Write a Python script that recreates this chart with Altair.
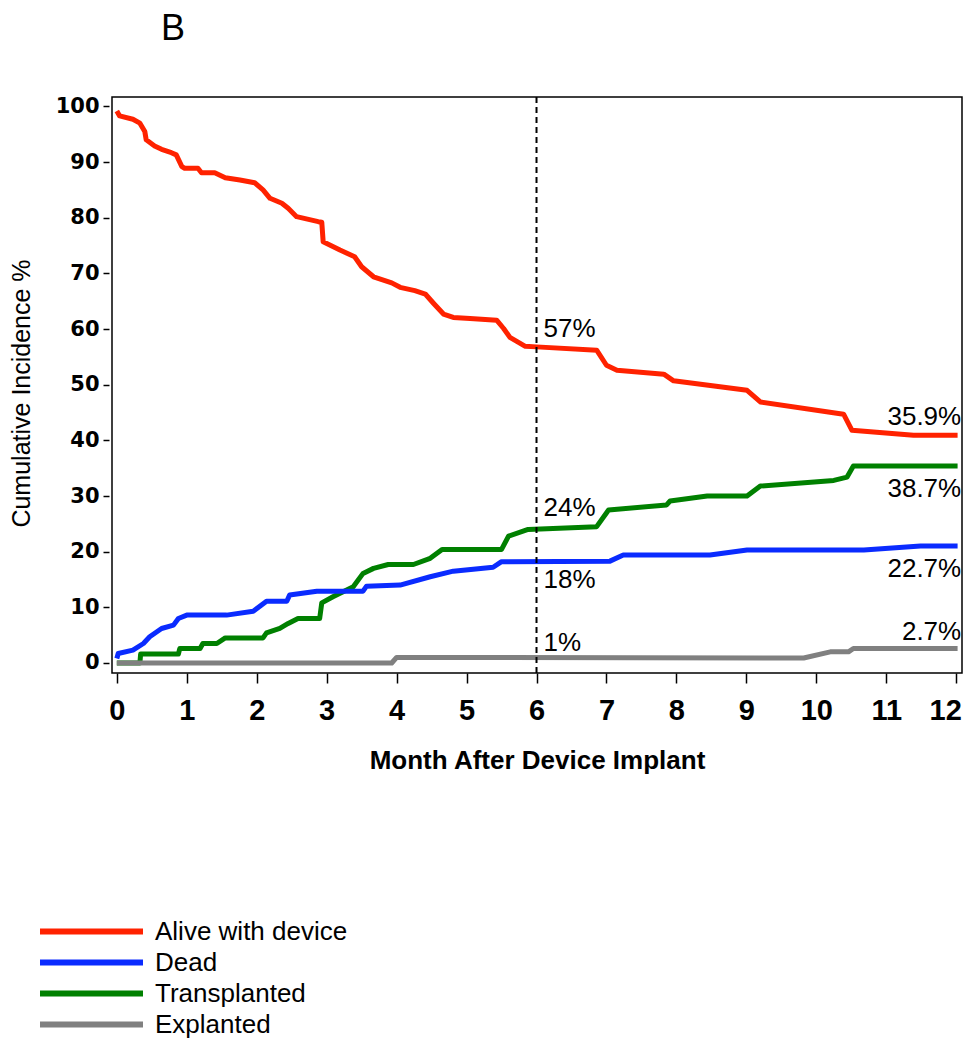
import altair as alt
import pandas as pd

# ---------------- data ----------------
series_names = ["Alive with device", "Dead", "Transplanted", "Explanted"]
series_colors = ["#FF2200", "#0A2BFF", "#008000", "#808080"]

alive_month = [0, 0.04, 0.23, 0.33, 0.40, 0.42, 0.54, 0.64, 0.78, 0.85,
               0.93, 0.97, 1.16, 1.21, 1.40, 1.55, 1.76, 1.97, 2.09, 2.19,
               2.36, 2.45, 2.57, 2.88, 2.93, 2.95, 3.19, 3.40, 3.50, 3.67,
               3.93, 4.05, 4.26, 4.41, 4.53, 4.67, 4.81, 5.05, 5.43, 5.53,
               5.62, 5.84, 6.0, 6.86, 7.0, 7.15, 7.82, 7.96, 9.01, 9.2,
               10.39, 10.51, 11.39, 12.02]
alive_pct = [99.2, 98.3, 97.7, 97.0, 95.5, 94.0, 92.9, 92.3, 91.7, 91.3,
             89.2, 88.9, 88.9, 88.1, 88.1, 87.2, 86.8, 86.3, 85.0, 83.5,
             82.6, 81.7, 80.2, 79.3, 79.2, 75.7, 74.2, 73.0, 71.2, 69.4,
             68.3, 67.5, 66.9, 66.3, 64.6, 62.7, 62.1, 61.9, 61.6, 60.1,
             58.5, 56.9, 56.8, 56.2, 53.5, 52.6, 51.9, 50.7, 49.0, 46.9,
             44.7, 41.8, 40.9, 40.9]

dead_month = [0, 0.02, 0.23, 0.38, 0.47, 0.64, 0.81, 0.88, 1.0, 1.57,
              1.95, 2.14, 2.43, 2.47, 2.86, 3.52, 3.57, 4.05, 4.48, 4.81,
              5.38, 5.50, 7.05, 7.24, 8.48, 9.01, 10.68, 11.49, 12.02]
dead_pct = [0.8, 1.7, 2.3, 3.5, 4.7, 6.2, 6.8, 8.0, 8.6, 8.6,
            9.3, 11.1, 11.1, 12.2, 12.9, 12.9, 13.8, 14.0, 15.5, 16.5,
            17.2, 18.2, 18.3, 19.4, 19.4, 20.3, 20.3, 21.0, 21.0]

transplant_month = [0, 0.33, 0.34, 0.88, 0.90, 1.19, 1.23, 1.43, 1.55, 2.09,
                    2.14, 2.33, 2.45, 2.59, 2.90, 2.93, 3.09, 3.38, 3.52, 3.67,
                    3.88, 4.24, 4.48, 4.65, 5.50, 5.60, 5.88, 6.86, 7.03, 7.86,
                    7.91, 8.44, 9.01, 9.2, 10.25, 10.44, 10.53, 12.02]
transplant_pct = [0, 0, 1.6, 1.6, 2.6, 2.6, 3.5, 3.5, 4.5, 4.5,
                  5.4, 6.2, 7.1, 8.0, 8.0, 10.8, 11.9, 13.7, 16.1, 17.0,
                  17.7, 17.7, 18.8, 20.4, 20.4, 22.8, 24.0, 24.5, 27.5, 28.4,
                  29.1, 30.0, 30.0, 31.8, 32.8, 33.4, 35.4, 35.4]

explant_month = [0, 3.93, 4.0, 9.82, 10.2, 10.46, 10.53, 12.02]
explant_pct = [0, 0, 1.0, 0.9, 2.0, 2.0, 2.6, 2.6]

# annotations
left_labels = ["57%", "24%", "18%", "1%"]
left_label_month = [6, 6, 6, 6]
left_label_pct = [58.6, 26.4, 13.4, 2.2]
right_labels = ["35.9%", "38.7%", "22.7%", "2.7%"]
right_label_month = [12, 12, 12, 12]
right_label_pct = [42.7, 29.8, 15.4, 4.2]

panel_label = ["B"]
landmark_month = [6]
x_ticks = list(range(0, 13))
y_ticks = list(range(0, 101, 10))

# ---------------- build tables ----------------
rows = []
for name, months, pcts in [
    ("Transplanted", transplant_month, transplant_pct),
    ("Explanted", explant_month, explant_pct),
    ("Dead", dead_month, dead_pct),
    ("Alive with device", alive_month, alive_pct),
]:
    for i, (m, p) in enumerate(zip(months, pcts)):
        rows.append({"series": name, "month": m, "pct": p, "idx": i})
df = pd.DataFrame(rows)

left_df = pd.DataFrame({"label": left_labels, "month": left_label_month, "pct": left_label_pct})
right_df = pd.DataFrame({"label": right_labels, "month": right_label_month, "pct": right_label_pct})
rule_df = pd.DataFrame({"month": landmark_month})
panel_df = pd.DataFrame({"label": panel_label})

x_scale = alt.Scale(domain=[-0.069, 12.083], nice=False, zero=False)
y_scale = alt.Scale(domain=[-1.8, 101.7], nice=False, zero=False)

x_axis = alt.Axis(
    values=x_ticks, format="d", title="Month After Device Implant", grid=False, domain=False,
    tickSize=10, tickWidth=1.5, tickColor="black",
    labelFont="Liberation Sans", labelFontWeight="bold",
    labelFontSize=29, labelColor="black", labelPadding=13,
    labelOffset={"expr": "datum.value == 12 ? -11 : 0"},
    labelFlush=False, labelOverlap=False,
    titleFont="Liberation Sans", titleFontWeight="bold", titleFontSize=26,
    titleColor="black", titleY=95, titleBaseline="alphabetic",
)
y_axis = alt.Axis(
    values=y_ticks, format="d", title="Cumulative Incidence %", grid=False, domain=False,
    tickSize=6, tickWidth=1.5, tickColor="black", offset=3,
    labelFont="DejaVu Sans", labelFontWeight="bold", labelFontSize=21,
    labelColor="black", labelPadding=4, labelOverlap=False, labelFlush=False,
    titleFont="Liberation Sans", titleFontWeight="normal", titleFontSize=25,
    titleColor="black", titleX=-80, titleY=296, titleBaseline="alphabetic",
    titleAlign="center", titleAngle=270,
)

color = alt.Color(
    "series:N",
    scale=alt.Scale(domain=series_names, range=series_colors),
    legend=alt.Legend(
        title=None, orient="none", legendX=-75, legendY=820,
        symbolType="stroke", symbolSize=10609, symbolStrokeWidth=6,
        labelFont="Liberation Sans", labelFontSize=26, labelColor="black",
        labelOffset=9, clipHeight=29, rowPadding=2, padding=0,
        labelLimit=400,
    ),
)

layers = []
for name in ["Transplanted", "Explanted", "Dead", "Alive with device"]:
    layers.append(
        alt.Chart(df).transform_filter(alt.datum.series == name)
        .mark_line(strokeWidth=5, strokeJoin="round", strokeCap="butt")
        .encode(
            x=alt.X("month:Q", scale=x_scale, axis=x_axis),
            y=alt.Y("pct:Q", scale=y_scale, axis=y_axis),
            color=color,
            order=alt.Order("idx:Q"),
        )
    )

rule = alt.Chart(rule_df).mark_rule(color="black", strokeWidth=2, strokeDash=[6, 4]).encode(
    x=alt.X("month:Q", scale=x_scale)
)

left_text = alt.Chart(left_df).mark_text(
    align="left", baseline="alphabetic", dx=7, font="Liberation Sans", fontSize=26, color="black"
).encode(x=alt.X("month:Q", scale=x_scale), y=alt.Y("pct:Q", scale=y_scale), text="label:N")

right_text = alt.Chart(right_df).mark_text(
    align="right", baseline="alphabetic", dx=5, font="Liberation Sans", fontSize=26, color="black"
).encode(x=alt.X("month:Q", scale=x_scale), y=alt.Y("pct:Q", scale=y_scale), text="label:N")

panel_text = alt.Chart(panel_df).mark_text(
    align="left", baseline="alphabetic", font="Liberation Sans", fontSize=36, color="black"
).encode(x=alt.value(49), y=alt.value(-57), text="label:N")

chart = alt.layer(*layers, rule, left_text, right_text, panel_text).properties(
    width=850,
    height=576,
    background="white",
    autosize=alt.AutoSizeParams(type="none"),
    padding={"left": 104, "top": 89, "right": 1, "bottom": 368},
).configure_view(stroke="black", strokeWidth=1.5)

chart.save("out.html", embed_options={"renderer": "svg", "actions": False})
